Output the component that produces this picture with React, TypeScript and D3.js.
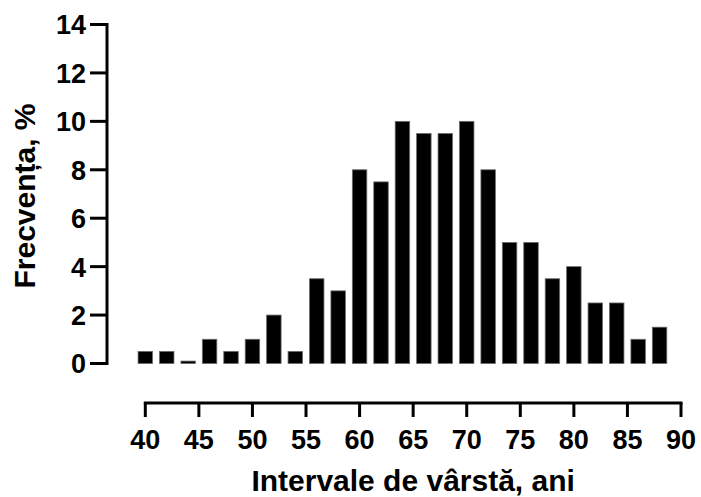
import React from "react";
import * as d3 from "d3";

// Age-interval starts (2-year bins) and the share of patients in each, %
const ageBins: number[] = [40, 42, 44, 46, 48, 50, 52, 54, 56, 58, 60, 62, 64, 66, 68, 70, 72, 74, 76, 78, 80, 82, 84, 86, 88];
const frequency: number[] = [0.5, 0.5, 0.1, 1, 0.5, 1, 2, 0.5, 3.5, 3, 8, 7.5, 10, 9.5, 9.5, 10, 8, 5, 5, 3.5, 4, 2.5, 2.5, 1, 1.5];
const yTicks: number[] = [0, 2, 4, 6, 8, 10, 12, 14];
const xTicks: number[] = [40, 45, 50, 55, 60, 65, 70, 75, 80, 85, 90];

const xTitle = "Intervale de vârstă, ani";
const yTitle = "Frecvența, %";

const W = 701;
const H = 497;
const FONT = "'Liberation Sans', Arial, Helvetica, sans-serif";

export default function App() {
  const x = d3.scaleLinear().domain([40, 90]).range([145.3, 681]);
  const y = d3.scaleLinear().domain([0, 14]).range([363.5, 24.5]);
  const barW = x(41.35) - x(40);
  const yAxisX = 107;
  const xAxisY = 403;
  const tickLen = 17;

  return (
    <div style={{ position: "absolute", left: 0, top: 0 }}>
      <svg width={W} height={H} viewBox={`0 0 ${W} ${H}`} style={{ display: "block", background: "#fff" }}>
        {/* bars */}
        <g>
          {ageBins.map((a, i) => (
            <rect
              key={a}
              x={x(a) - barW / 2}
              y={y(frequency[i])}
              width={barW}
              height={y(0) - y(frequency[i])}
              fill="#000"
              stroke="#6b6b6b"
              strokeWidth={0.8}
            />
          ))}
        </g>

        {/* y axis */}
        <g stroke="#000" strokeWidth={3} fill="none">
          <line x1={yAxisX} x2={yAxisX} y1={y(14) - 1.5} y2={y(0) + 1.5} />
          {yTicks.map((t) => (
            <line key={t} x1={yAxisX - tickLen} x2={yAxisX} y1={y(t)} y2={y(t)} />
          ))}
        </g>
        <g fontFamily={FONT} fontWeight="bold" fontSize={27} fill="#000" textAnchor="end">
          {yTicks.map((t) => (
            <text key={t} x={yAxisX - tickLen - 4} y={y(t)} dy="0.37em">
              {t}
            </text>
          ))}
        </g>

        {/* x axis */}
        <g stroke="#000" strokeWidth={3} fill="none">
          <line x1={x(40) - 1.5} x2={x(90) + 1.5} y1={xAxisY} y2={xAxisY} />
          {xTicks.map((t) => (
            <line key={t} x1={x(t)} x2={x(t)} y1={xAxisY} y2={xAxisY + 14} />
          ))}
        </g>
        <g fontFamily={FONT} fontWeight="bold" fontSize={27} fill="#000" textAnchor="middle">
          {xTicks.map((t) => (
            <text key={t} x={x(t)} y={449}>
              {t}
            </text>
          ))}
        </g>

        {/* axis titles */}
        <text
          x={(x(40) + x(90)) / 2}
          y={491}
          textAnchor="middle"
          fontFamily={FONT}
          fontWeight="bold"
          fontSize={30}
          fill="#000"
        >
          {xTitle}
        </text>
        <text
          transform={`translate(35, ${(y(0) + y(14)) / 2 + 2}) rotate(-90)`}
          textAnchor="middle"
          fontFamily={FONT}
          fontWeight="bold"
          fontSize={30}
          fill="#000"
        >
          {yTitle}
        </text>
      </svg>
    </div>
  );
}
